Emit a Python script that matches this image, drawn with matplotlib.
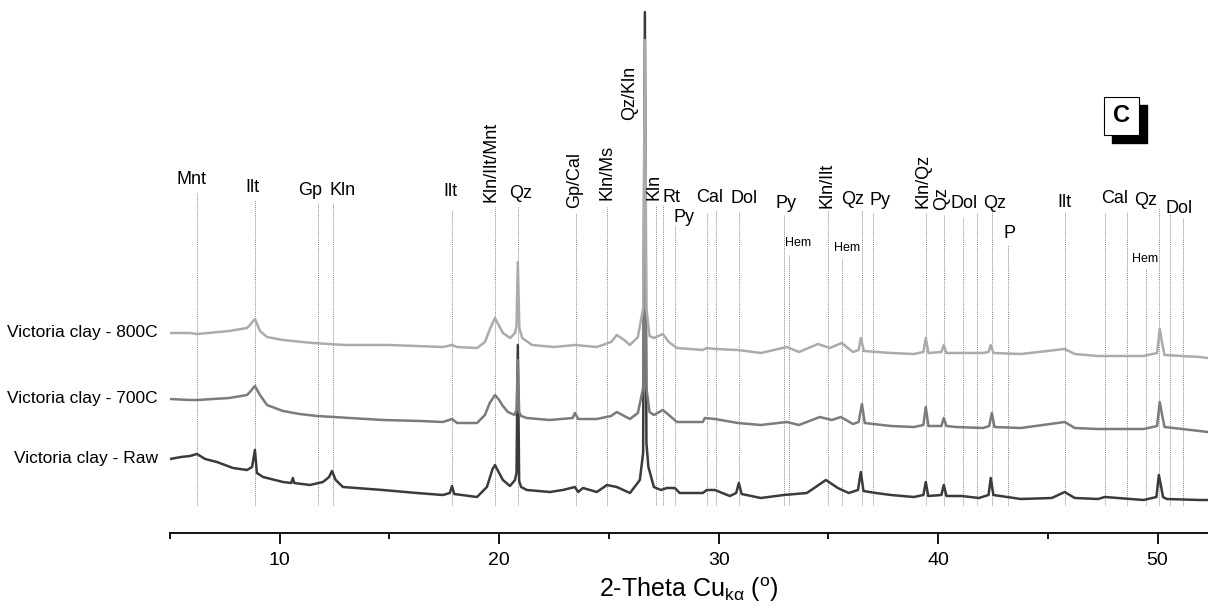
import matplotlib.pyplot as plt
from matplotlib.patches import Rectangle

plt.rcParams["font.family"] = ["Liberation Sans", "DejaVu Sans"]
plt.rcParams["mathtext.fontset"] = "custom"
plt.rcParams["mathtext.rm"] = "Liberation Sans"
plt.rcParams["mathtext.it"] = "Liberation Sans:italic"

# --- diffraction patterns (2-theta in degrees, intensity in counts) ---
tt_raw = [5.00, 5.50, 5.91, 6.23, 6.60, 7.14, 7.87, 8.51, 8.74, 8.87, 8.96, 9.24,
          10.15, 10.52, 10.60, 10.66, 11.38, 11.97, 12.25, 12.38, 12.55, 12.88,
          14.70, 16.25, 17.44, 17.75, 17.85, 17.95, 18.99, 19.44, 19.70, 19.81,
          19.95, 20.17, 20.49, 20.72, 20.79, 20.85, 20.91, 21.00, 21.26, 22.31,
          22.90, 23.45, 23.60, 23.82, 24.45, 24.91, 25.36, 25.96, 26.41, 26.56,
          26.64, 26.71, 26.80, 27.05, 27.37, 27.64, 28.00, 28.23, 29.28, 29.46,
          29.83, 30.51, 30.80, 30.92, 31.05, 31.92, 32.97, 34.02, 34.89, 35.43,
          35.93, 36.35, 36.48, 36.60, 37.16, 37.85, 38.90, 39.33, 39.44, 39.55,
          40.15, 40.26, 40.38, 41.08, 41.86, 42.30, 42.40, 42.52, 43.77, 45.18,
          45.77, 46.23, 47.28, 47.60, 49.37, 49.95, 50.06, 50.15, 50.25, 50.42,
          51.92, 52.29]
cnt_raw = [740, 760, 770, 790, 740, 710, 650, 630, 660, 830, 600, 560,
           510, 500, 550, 500, 480, 510, 560, 620, 530, 460,
           430, 400, 380, 400, 470, 390, 360, 460, 640, 680,
           620, 530, 470, 530, 600, 1880, 520, 460, 430, 410,
           430, 460, 410, 450, 410, 480, 460, 400, 530, 800,
           5210, 900, 660, 460, 430, 450, 450, 400, 400, 430,
           430, 370, 400, 500, 390, 350, 380, 400, 530, 450,
           400, 430, 610, 420, 400, 380, 360, 380, 510, 370,
           380, 480, 370, 370, 350, 380, 550, 380, 340, 350,
           410, 350, 340, 360, 330, 360, 580, 480, 360, 340,
           330, 330]

tt_700 = [5.00, 5.91, 6.23, 7.70, 8.51, 8.64, 8.87, 9.10, 9.42, 10.15, 10.90,
          11.70, 13.20, 14.70, 16.40, 17.44, 17.85, 18.08, 18.99, 19.35, 19.57,
          19.81, 20.00, 20.17, 20.40, 20.70, 20.79, 20.85, 20.91, 21.00, 21.26,
          22.31, 23.35, 23.45, 23.60, 24.45, 25.10, 25.36, 25.70, 25.96, 26.32,
          26.56, 26.64, 26.71, 26.85, 27.05, 27.46, 27.73, 28.10, 29.28, 29.37,
          29.83, 30.88, 31.92, 33.11, 33.66, 34.61, 35.16, 35.57, 36.12, 36.38,
          36.53, 36.66, 37.85, 38.90, 39.33, 39.44, 39.56, 40.15, 40.26, 40.38,
          40.81, 42.04, 42.33, 42.45, 42.57, 43.77, 45.77, 46.23, 47.28, 49.37,
          49.98, 50.10, 50.20, 50.32, 51.92, 52.29]
cnt_700 = [690, 680, 680, 700, 730, 760, 820, 730, 630, 570, 540,
           520, 500, 480, 470, 460, 490, 450, 450, 530, 650,
           730, 680, 620, 560, 530, 580, 1080, 560, 520, 500,
           480, 500, 550, 490, 490, 520, 560, 520, 490, 550,
           800, 2350, 800, 560, 530, 580, 530, 460, 460, 500,
           490, 450, 430, 460, 430, 510, 480, 510, 440, 460,
           640, 450, 420, 410, 430, 610, 420, 420, 500, 420,
           410, 400, 420, 550, 410, 400, 460, 400, 390, 390,
           420, 660, 540, 410, 370, 360]

tt_800 = [5.00, 5.91, 6.23, 7.70, 8.51, 8.64, 8.87, 9.10, 9.42, 10.15, 11.50,
          13.00, 15.00, 17.44, 17.85, 18.08, 18.99, 19.35, 19.60, 19.81, 20.00,
          20.17, 20.50, 20.72, 20.79, 20.85, 20.92, 21.05, 21.50, 22.50, 23.45,
          24.45, 25.10, 25.36, 25.70, 25.96, 26.32, 26.56, 26.64, 26.71, 26.85,
          27.05, 27.46, 27.73, 28.10, 29.28, 29.46, 29.83, 30.88, 31.92, 33.11,
          33.66, 34.52, 35.07, 35.61, 36.12, 36.38, 36.48, 36.62, 37.85, 38.90,
          39.33, 39.44, 39.56, 40.15, 40.26, 40.38, 40.81, 42.04, 42.30, 42.40,
          42.52, 43.77, 45.77, 46.23, 47.28, 49.37, 49.98, 50.10, 50.20, 50.32,
          51.92, 52.29]
cnt_800 = [650, 650, 640, 670, 700, 730, 790, 670, 610, 580, 550,
           530, 530, 510, 530, 510, 500, 560, 700, 800, 720,
           650, 600, 650, 720, 1360, 700, 600, 530, 510, 530,
           510, 560, 630, 580, 530, 610, 900, 3580, 900, 620,
           600, 640, 560, 500, 480, 500, 490, 480, 450, 510,
           460, 540, 500, 550, 460, 480, 600, 470, 450, 440,
           460, 600, 450, 460, 530, 450, 450, 450, 460, 530,
           450, 440, 490, 440, 420, 420, 450, 690, 560, 430,
           410, 400]

# --- phase reference lines (2-theta, top of line in counts) ---
ref_pos = [6.23, 8.87, 11.74, 12.43, 17.85, 19.81, 20.85, 23.50, 24.91, 27.13,
           27.46, 28.00, 29.46, 29.87, 30.92, 32.97, 33.20, 34.98, 35.61, 36.53,
           37.03, 39.44, 40.26, 41.13, 41.77, 42.45, 43.18, 45.77, 47.60, 48.60,
           49.46, 50.06, 50.56, 51.15]
ref_top = [3410, 3330, 3300, 3300, 3230, 3260, 3260, 3200, 3260, 3280,
           3280, 3080, 3200, 3230, 3210, 3180, 2780, 3230, 2750, 3230,
           3200, 3200, 3180, 3160, 3200, 3210, 2880, 3210, 3200, 3210,
           2650, 3250, 3200, 3150]

# horizontal phase labels: text, 2-theta, baseline height
phase_text = ["Mnt", "Ilt", "Gp", "Kln", "Ilt", "Qz", "Rt", "Py", "Cal", "Dol",
              "Py", "Hem", "Hem", "Qz", "Py", "Dol", "Qz", "P", "Ilt", "Cal",
              "Qz", "Hem", "Dol"]
phase_x = [6.00, 8.74, 11.38, 12.88, 17.80, 20.99, 27.87, 28.42, 29.60, 31.15,
           33.06, 33.61, 35.84, 36.12, 37.35, 41.17, 42.59, 43.27, 45.77, 48.05,
           49.46, 49.42, 50.97]
phase_y = [3490, 3410, 3380, 3380, 3370, 3350, 3310, 3110, 3310, 3300,
           3250, 2870, 2820, 3290, 3280, 3250, 3250, 2950, 3260, 3300,
           3280, 2710, 3200]

# rotated phase labels: text, 2-theta, bottom of text
rot_text = ["Kln/Ilt/Mnt", "Gp/Cal", "Kln/Ms", "Qz/Kln", "Kln", "Kln/Ilt",
            "Kln/Qz", "Qz"]
rot_x = [19.63, 23.45, 24.91, 25.96, 27.05, 34.93, 39.30, 40.17]
rot_y = [3310, 3250, 3330, 4130, 3330, 3250, 3250, 3230]

samples = ["Victoria clay - Raw", "Victoria clay - 700C", "Victoria clay - 800C"]

# stacking offsets and colours; the raw pattern is drawn first, 800C on top
traces = [
    (tt_raw, cnt_raw, 0, "#3b3b3b"),
    (tt_700, cnt_700, 650, "#7b7b7b"),
    (tt_800, cnt_800, 1350, "#ababab"),
]

fig = plt.figure(figsize=(12.08, 6.14), dpi=100)
ax = fig.add_axes([170 / 1208, 81 / 614, 1 - 170 / 1208, 1 - 81 / 614])
ax.set_xlim(5, 52.3)
ax.set_ylim(0, 5330)

for x, top in zip(ref_pos, ref_top):
    ax.plot([x, x], [280, top], color="#8c8c8c", lw=0.7, ls=(0, (1, 1)), zorder=1)

for (tt, cnt, off, col), name in zip(traces, samples):
    ax.plot(tt, [c + off for c in cnt], color=col, lw=1.8, zorder=2,
            solid_joinstyle="round")
    ax.text(-0.012, cnt[0] + off, name, transform=ax.get_yaxis_transform(),
            ha="right", va="center", fontsize=12.5)

for t, x, y in zip(phase_text, phase_x, phase_y):
    ax.text(x, y, t, ha="center", va="baseline", fontsize=9 if t == "Hem" else 13)

for t, x, y in zip(rot_text, rot_x, rot_y):
    ax.text(x, y, t, ha="center", va="bottom", rotation=90, fontsize=13)

# only the bottom spine is drawn
for side in ("left", "right", "top"):
    ax.spines[side].set_visible(False)
ax.spines["bottom"].set_linewidth(1.3)
ax.set_yticks([])
ax.set_xticks([10, 20, 30, 40, 50])
ax.set_xticks([5, 15, 25, 35, 45], minor=True)
ax.tick_params(axis="x", which="major", length=8, width=1.3, labelsize=14, pad=6)
ax.tick_params(axis="x", which="minor", length=4, width=1.3)
ax.set_xlabel(r"2-Theta Cu$_{\mathregular{k\alpha}}$ ($^{\mathregular{o}}$)",
              fontsize=18, labelpad=4)

# panel letter with drop shadow
w, h = 35 / 1208, 38 / 614
fig.patches.append(Rectangle((1112 / 1208, 1 - 143 / 614), w, h,
                             transform=fig.transFigure, color="black", zorder=5))
fig.patches.append(Rectangle((1104 / 1208, 1 - 135 / 614), w, h,
                             transform=fig.transFigure, facecolor="white",
                             edgecolor="black", lw=0.8, zorder=6))
fig.text(1121.5 / 1208, 1 - 116 / 614, "C", ha="center", va="center",
         fontsize=17, fontweight="bold", zorder=7)

fig.savefig("out.png", dpi=100)
